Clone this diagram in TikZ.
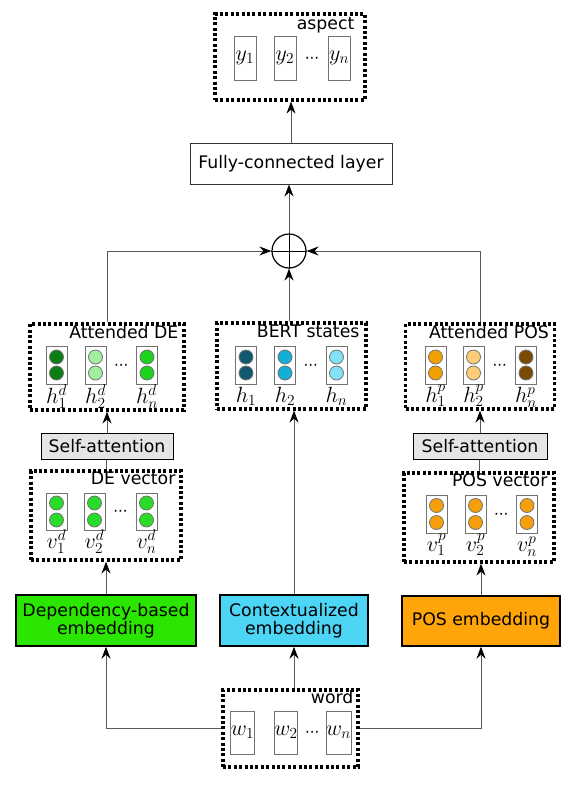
\RequirePackage{fix-cm}
\documentclass[tikz,border=0pt]{standalone}
\usepackage{fontspec}
\setmainfont{DejaVu Sans}
\usetikzlibrary{arrows.meta,positioning,calc}

\definecolor{depgreen}{RGB}{42,230,0}
\definecolor{ctxblue}{RGB}{77,213,245}
\definecolor{posorange}{RGB}{255,165,10}
\definecolor{deA}{RGB}{10,125,20}
\definecolor{deB}{RGB}{160,240,160}
\definecolor{deC}{RGB}{30,210,30}
\definecolor{deV}{RGB}{40,220,40}
\definecolor{btA}{RGB}{15,90,110}
\definecolor{btB}{RGB}{20,175,215}
\definecolor{btC}{RGB}{130,225,245}
\definecolor{psA}{RGB}{240,160,0}
\definecolor{psB}{RGB}{255,205,120}
\definecolor{psC}{RGB}{120,75,0}
\definecolor{psV}{RGB}{245,160,10}

\newcommand{\txtsize}{\fontsize{17.3}{18}\selectfont}
\newcommand{\labsize}{\fontsize{22}{24}\selectfont}
\newcommand{\dotsize}{\fontsize{15}{16}\selectfont}

\begin{document}
\begin{tikzpicture}[x=1pt, y=-1pt,
    every node/.style={font=\txtsize},
    dotbox/.style={draw, line width=3.2pt, dash pattern=on 3pt off 2.4pt, inner sep=0pt},
    boxtitle/.style={anchor=base east, inner sep=0pt},
    cell/.style={draw=black!55, fill=white, line width=0.9pt, inner sep=0pt, minimum width=21pt, minimum height=38pt},
    tallcell/.style={cell, minimum width=22pt, minimum height=44pt, font=\labsize},
    ball/.style={draw=black!55, line width=0.8pt},
    cellsub/.style={anchor=base, inner sep=0pt, font=\labsize},
    dotsep/.style={inner sep=0pt, font=\dotsize},
    embed/.style={draw, line width=1.4pt, align=center, inner sep=0pt, minimum height=51pt},
    attn/.style={draw, fill=black!10, line width=1pt, inner sep=0pt, minimum height=26pt},
    link/.style={draw=black!65, line width=1pt},
    arrow/.style={link, -{Stealth[length=12pt,width=9pt,inset=4pt,color=black]}}
]

\useasboundingbox (0,0) rectangle (579,787);

% Output labels
\node[dotbox, minimum width=150pt, minimum height=86pt] (aspect) at (290,57) {};
\node[boxtitle] (aspecttitle) at ($(aspect.north east)+(-12,17)$) {aspect};
\node[tallcell] (y1) at (245,58) {$y_1$};
\node[tallcell] (y2) at (285,58) {$y_2$};
\node[tallcell] (yn) at (339,58) {$y_n$};
\node[dotsep] (ydots) at ($(y2)!0.5!(yn)+(0,2)$) {···};

% Fully-connected layer
\node[draw=black!80, line width=1pt, minimum width=202pt, minimum height=41pt, inner sep=0pt] (fc) at (291,163.5) {Fully-connected layer};

% Concatenation
\node[draw, circle, line width=1.2pt, minimum size=34pt, inner sep=0pt] (plus) at (289,251) {};
\draw[line width=1pt] (plus.north) -- (plus.south) (plus.west) -- (plus.east);

% Attended DE
\node[dotbox, minimum width=154pt, minimum height=86pt] (attde) at (107,367) {};
\node[boxtitle] (attdetitle) at ($(attde.north east)+(-7,16)$) {Attended DE};
\foreach \i/\x/\col in {1/56.5/deA, 2/95.5/deB, n/147/deC} {
    \node[cell] (ade\i) at (\x,365) {};
    \draw[ball, fill=\col] ($(ade\i.center)+(0,-8)$) circle (7);
    \draw[ball, fill=\col] ($(ade\i.center)+(0,8)$) circle (7);
    \node[cellsub] (adelab\i) at ($(ade\i.south)+(0,19)$) {$h_{\i}^{d}$};
}
\node[dotsep] (adedots) at ($(ade2)!0.5!(aden)+(0,2)$) {···};

% BERT states
\node[dotbox, minimum width=149pt, minimum height=86pt] (bert) at (291.5,366) {};
\node[boxtitle] (berttitle) at ($(bert.north east)+(-8,16)$) {BERT states};
\foreach \i/\x/\col in {1/246/btA, 2/285/btB, n/336.5/btC} {
    \node[cell] (bt\i) at (\x,365) {};
    \draw[ball, fill=\col] ($(bt\i.center)+(0,-8)$) circle (7);
    \draw[ball, fill=\col] ($(bt\i.center)+(0,8)$) circle (7);
    \node[cellsub] (btlab\i) at ($(bt\i.south)+(0,18)$) {$h_{\i}$};
}
\node[dotsep] (btdots) at ($(bt2)!0.5!(btn)+(0,2)$) {···};

% Attended POS
\node[dotbox, minimum width=149pt, minimum height=85pt] (attpos) at (480,366.5) {};
\node[boxtitle] (attpostitle) at ($(attpos.north east)+(-7,16)$) {Attended POS};
\foreach \i/\x/\col in {1/435.5/psA, 2/473.5/psB, n/526/psC} {
    \node[cell] (aps\i) at (\x,365) {};
    \draw[ball, fill=\col] ($(aps\i.center)+(0,-8)$) circle (7);
    \draw[ball, fill=\col] ($(aps\i.center)+(0,8)$) circle (7);
    \node[cellsub] (apslab\i) at ($(aps\i.south)+(0,18)$) {$h_{\i}^{p}$};
}
\node[dotsep] (apsdots) at ($(aps2)!0.5!(apsn)+(0,2)$) {···};

% Self-attention
\node[attn, minimum width=132pt] (sade) at (107,446) {Self-attention};
\node[attn, minimum width=134pt] (sapos) at (480,446) {Self-attention};

% DE vector
\node[dotbox, minimum width=150pt, minimum height=89pt] (devec) at (106,515.5) {};
\node[boxtitle] (devectitle) at ($(devec.north east)+(-7,15)$) {DE vector};
\foreach \i/\x in {1/56.5, 2/94.5, n/146.5} {
    \node[cell, minimum height=37pt] (dv\i) at (\x,511.5) {};
    \draw[ball, fill=deV] ($(dv\i.center)+(0,-8.5)$) circle (7);
    \draw[ball, fill=deV] ($(dv\i.center)+(0,8.5)$) circle (7);
    \node[cellsub] (dvlab\i) at ($(dv\i.south)+(0,18)$) {$v_{\i}^{d}$};
}
\node[dotsep] (dvdots) at ($(dv2)!0.5!(dvn)+(0,2)$) {···};

% POS vector
\node[dotbox, minimum width=150pt, minimum height=89pt] (posvec) at (479,517.5) {};
\node[boxtitle] (posvectitle) at ($(posvec.north east)+(-8,15)$) {POS vector};
\foreach \i/\x in {1/436.5, 2/475.5, n/527} {
    \node[cell] (pv\i) at (\x,514) {};
    \draw[ball, fill=psV] ($(pv\i.center)+(0,-8.5)$) circle (7);
    \draw[ball, fill=psV] ($(pv\i.center)+(0,8.5)$) circle (7);
    \node[cellsub] (pvlab\i) at ($(pv\i.south)+(0,18)$) {$v_{\i}^{p}$};
}
\node[dotsep] (pvdots) at ($(pv2)!0.5!(pvn)+(0,2)$) {···};

% Embeddings
\node[embed, fill=depgreen, minimum width=180pt] (dep) at (106,620.5) {Dependency-based\\embedding};
\node[embed, fill=ctxblue, minimum width=148pt] (ctx) at (294,620.5) {Contextualized\\embedding};
\node[embed, fill=posorange, minimum width=158pt, minimum height=50pt] (posemb) at (481,621) {POS embedding};

% Input words
\node[dotbox, minimum width=135pt, minimum height=77pt] (word) at (290.5,728.5) {};
\node[boxtitle] (wordtitle) at ($(word.north east)+(-6,15)$) {word};
\node[tallcell, minimum height=43pt] (w1) at (242.5,732.5) {$w_1$};
\node[tallcell, minimum height=43pt] (w2) at (286,732.5) {$w_2$};
\node[tallcell, minimum height=43pt] (wn) at (338.5,732.5) {$w_n$};
\node[dotsep] (wdots) at ($(w2)!0.5!(wn)+(0,2)$) {···};

% Arrows
\draw[arrow] (fc.north) -- (fc.north |- aspect.south);
\draw[arrow] (plus.north) -- (plus.north |- fc.south);
\draw[arrow] (attde.north) |- (plus.west);
\draw[arrow] (attpos.north) |- (plus.east);
\draw[arrow] (plus.south |- bert.north) -- (plus.south);
\draw[arrow] (sade.north) -- (sade.north |- attde.south);
\draw[arrow] (sapos.north) -- (sapos.north |- attpos.south);
\draw[link] (devec.north) -- (devec.north |- sade.south);
\draw[link] (posvec.north) -- (posvec.north |- sapos.south);
\draw[arrow] (dep.north) -- (dep.north |- devec.south);
\draw[arrow] (ctx.north) -- (ctx.north |- bert.south);
\draw[arrow] (posemb.north) -- (posemb.north |- posvec.south);
\draw[arrow] (ctx.south |- word.north) -- (ctx.south);
\draw[arrow] (word.west) -| (dep.south);
\draw[arrow] (word.east) -| (posemb.south);

\end{tikzpicture}
\end{document}
